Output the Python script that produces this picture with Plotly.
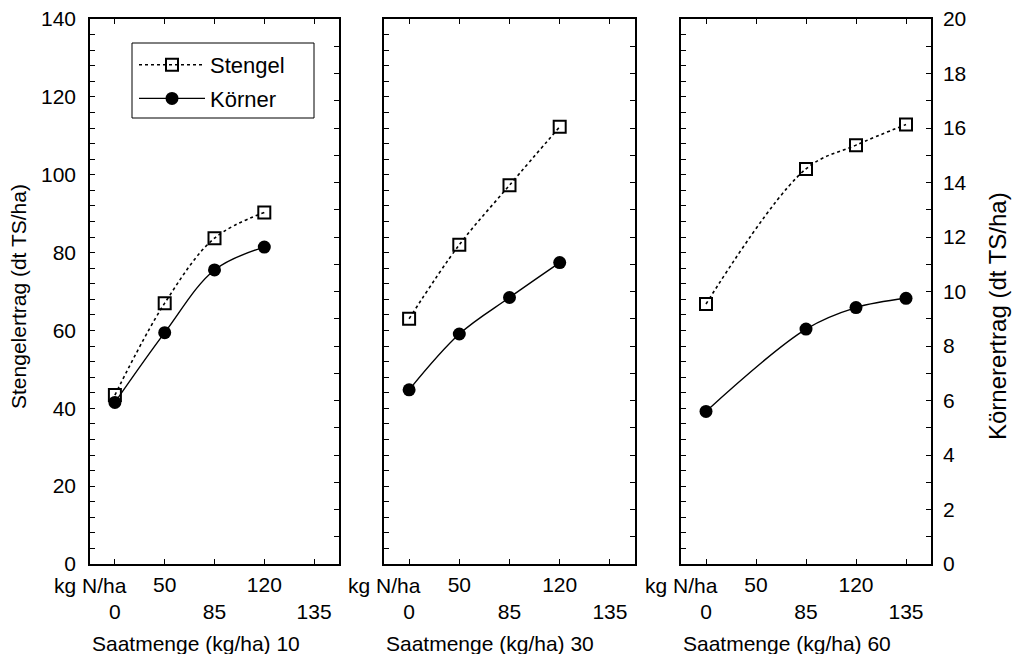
import plotly.graph_objects as go

# ---- data ----
n_levels = ["0", "50", "85", "120", "135"]          # x categories (kg N/ha)
tick_text = ["&nbsp;<br>0", "50<br>&nbsp;", "&nbsp;<br>85", "120<br>&nbsp;", "&nbsp;<br>135"]

p1_x = ["0", "50", "85", "120"]
p2_x = ["0", "50", "85", "120"]
p3_x = ["0", "85", "120", "135"]

stengel_p1 = [43.4, 67.0, 83.7, 90.3]
stengel_p2 = [63.0, 82.0, 97.3, 112.3]
stengel_p3 = [66.8, 101.5, 107.6, 112.9]

koerner_p1 = [5.93, 8.49, 10.79, 11.63]
koerner_p2 = [6.39, 8.44, 9.78, 11.06]
koerner_p3 = [5.60, 8.62, 9.41, 9.75]

panel_titles = ["Saatmenge (kg/ha) 10", "Saatmenge (kg/ha) 30", "Saatmenge (kg/ha) 60"]

W, H = 1014, 654
FONT = "Liberation Sans, Arial, sans-serif"
FS = 21

panels_px = [(90, 339), (384, 635), (681, 931)]
ytop, ybot = 19, 564
ydom = [1 - ybot / H, 1 - ytop / H]

fig = go.Figure()

sets = [(p1_x, stengel_p1, koerner_p1), (p2_x, stengel_p2, koerner_p2), (p3_x, stengel_p3, koerner_p3)]

for i, (xs, st, ko) in enumerate(sets):
    xa = "x" if i == 0 else f"x{i+1}"
    yl = "y" if i == 0 else f"y{2*i+1}"
    yr = f"y{2*i+2}"
    fig.add_trace(go.Scatter(
        x=xs, y=st, xaxis=xa, yaxis=yl, name="Stengel", mode="lines+markers",
        line=dict(color="black", width=1.6, dash="dot", shape="spline"),
        marker=dict(symbol="square-open", size=12, color="black", line=dict(width=2, color="black")),
        showlegend=(i == 0), legendgroup="a"))
    fig.add_trace(go.Scatter(
        x=xs, y=ko, xaxis=xa, yaxis=yr, name="Körner", mode="lines+markers",
        line=dict(color="black", width=1.4, shape="spline"),
        marker=dict(symbol="circle", size=13, color="black"),
        showlegend=(i == 0), legendgroup="b"))

layout = dict(
    width=W, height=H, margin=dict(l=0, r=0, t=0, b=0, autoexpand=False),
    paper_bgcolor="white", plot_bgcolor="white",
    font=dict(family=FONT, size=FS, color="black"),
    showlegend=True,
    legend=dict(x=134 / W, y=1 - 44 / H, xanchor="left", yanchor="top",
                borderwidth=0, bgcolor="rgba(0,0,0,0)",
                font=dict(size=22), itemwidth=66, tracegroupgap=2,
                traceorder="grouped"),
    shapes=[dict(type="rect", xref="paper", yref="paper",
                 x0=132 / W, x1=314 / W, y0=1 - 118 / H, y1=1 - 43 / H,
                 line=dict(color="black", width=1), fillcolor="white", layer="below")],
)

for i, (l, r) in enumerate(panels_px):
    xk = "xaxis" if i == 0 else f"xaxis{i+1}"
    ylk = "yaxis" if i == 0 else f"yaxis{2*i+1}"
    yrk = f"yaxis{2*i+2}"
    xa = "x" if i == 0 else f"x{i+1}"
    yl = "y" if i == 0 else f"y{2*i+1}"
    layout[xk] = dict(
        domain=[l / W, r / W], anchor=yl, type="category", automargin=False,
        categoryorder="array", categoryarray=n_levels, range=[-0.5, 4.5],
        tickmode="array", tickvals=n_levels, ticktext=tick_text,
        ticks="inside", ticklen=5, tickwidth=1.2, tickcolor="black",
        showline=True, linecolor="black", linewidth=1.5, mirror="ticks",
        showgrid=False, zeroline=False, ticklabelstandoff=1,
        tickfont=dict(size=FS))
    layout[ylk] = dict(
        domain=ydom, anchor=xa, range=[0, 140], dtick=20, automargin=False,
        ticks="inside", ticklen=5, tickwidth=1.2, tickcolor="black",
        minor=dict(dtick=4, ticks="inside", ticklen=5, tickwidth=1.2, tickcolor="black"),
        showline=True, linecolor="black", linewidth=1.5,
        showgrid=False, zeroline=False, showticklabels=(i == 0),
        ticklabelstandoff=8, tickfont=dict(size=FS))
    layout[yrk] = dict(
        overlaying=yl, anchor=xa, side="right", range=[0, 20], dtick=2, automargin=False,
        ticks="inside", ticklen=5, tickwidth=1.2, tickcolor="black",
        minor=dict(dtick=1, ticks="inside", ticklen=5, tickwidth=1.2, tickcolor="black"),
        showline=True, linecolor="black", linewidth=1.5,
        showgrid=False, zeroline=False, showticklabels=(i == 2),
        ticklabelstandoff=6, tickfont=dict(size=FS))

fig.update_layout(**layout)

annotations = []
for i, (l, r) in enumerate(panels_px):
    annotations.append(dict(text="kg N/ha", x=l / W, y=1 - 585 / H, xref="paper", yref="paper",
                            xanchor="center", yanchor="middle", showarrow=False,
                            font=dict(size=FS)))
    annotations.append(dict(text=panel_titles[i], x=l / W, y=1 - 643 / H, xref="paper", yref="paper",
                            xanchor="left", yanchor="middle", showarrow=False,
                            font=dict(size=FS)))
annotations.append(dict(text="Stengelertrag (dt TS/ha)", x=18 / W, y=1 - 297 / H, xref="paper", yref="paper",
                        xanchor="center", yanchor="middle", textangle=-90, showarrow=False,
                        font=dict(size=FS)))
annotations.append(dict(text="Körnerertrag (dt TS/ha)", x=997 / W, y=1 - 316 / H, xref="paper", yref="paper",
                        xanchor="center", yanchor="middle", textangle=-90, showarrow=False,
                        font=dict(size=24)))
fig.update_layout(annotations=annotations)

fig.write_html("out.html")
